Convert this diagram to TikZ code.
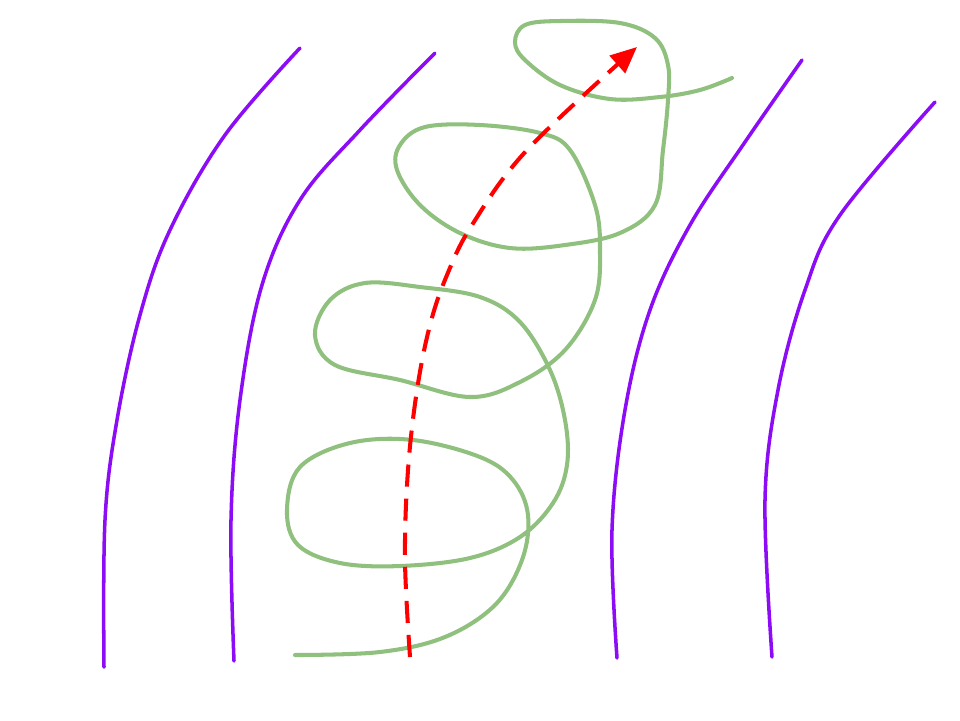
\documentclass[tikz,border=0pt]{standalone}
\usetikzlibrary{arrows.meta}

\definecolor{bankpurple}{RGB}{139,12,245}
\definecolor{loopgreen}{RGB}{143,192,125}

\begin{document}
\begin{tikzpicture}[x=0.01cm, y=-0.01cm, line cap=round, line join=round,
  bank/.style={bankpurple, line width=1pt},
  coil/.style={loopgreen, line width=1.15pt},
  drift/.style={red, line width=1.15pt, dash pattern=on 6.3pt off 3.4pt, line cap=butt,
    -{Triangle[length=7.5pt, width=6.5pt]}}]
  \useasboundingbox (0,0) rectangle (960,720);

  % --- Hai cặp đường biên (tím) ---
  \draw[bank] plot[smooth, tension=0.6] coordinates {(104,667) (105,520) (117,420) (140,315) (170,230) (225,135) (300,48)};
  \draw[bank] plot[smooth, tension=0.6] coordinates {(234,661) (231,520) (240,400) (262,285) (300,200) (360,130) (435,53)};
  \draw[bank] plot[smooth, tension=0.6] coordinates {(617,658) (612,530) (625,410) (650,310) (690,225) (745,142) (802,60)};
  \draw[bank] plot[smooth, tension=0.6] coordinates {(772,657) (765,500) (778,390) (805,290) (840,215) (935,102)};

  % --- Đường xoắn (xanh lá) ---
  \draw[coil] plot[smooth, tension=0.6] coordinates {
    (295,655) (380,652) (445,637) (495,605) (522,560) (528,515) (513,480) (480,457)
    (413,440) (350,443) (300,467) (287,510) (298,545) (340,563) (400,566) (470,558)
    (520,537) (553,503) (567,465) (565,420) (550,370) (520,322) (480,297) (420,287)
    (365,283) (330,300) (315,335) (335,365) (400,380) (470,397) (520,382) (565,350)
    (595,300) (600,250) (595,205) (570,150) (540,133) (480,125) (425,127) (400,145)
    (397,170) (420,205) (460,233) (510,248) (565,245) (620,233) (655,205) (663,150)
    (668,100) (668,65) (655,38) (620,23) (560,21) (525,25) (515,42) (525,60)
    (560,85) (610,99) (660,97) (700,90) (732,78)};

  % --- Mũi tên đứt nét (đỏ) ---
  \draw[drift] plot[smooth, tension=0.6] coordinates {(410,657) (405,560) (408,470) (417,390) (430,325) (447,275) (472,225) (527,150) (637,47)};
\end{tikzpicture}
\end{document}
